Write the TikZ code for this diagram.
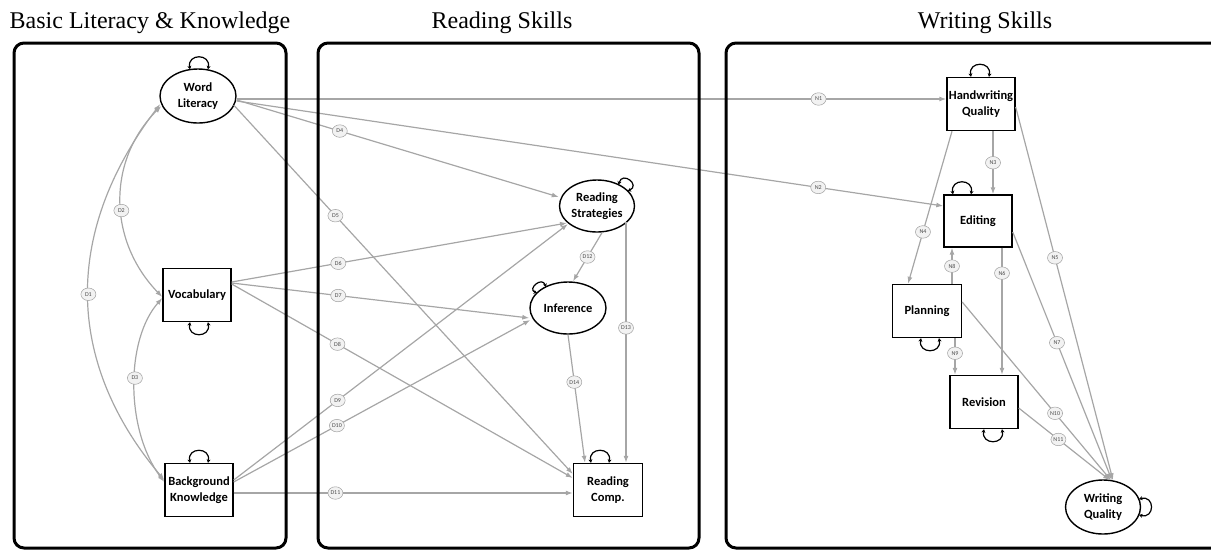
\documentclass[tikz,border=0pt]{standalone}
\usepackage{fontspec}
\setmainfont{Liberation Serif}
\newfontfamily\carlito{Carlito}
\usetikzlibrary{calc,arrows.meta,shapes.geometric}
\definecolor{edgegray}{HTML}{A6A6A6}
\definecolor{labfill}{HTML}{F2F2F2}
\definecolor{labdraw}{HTML}{A0A0A0}
\begin{document}
\begin{tikzpicture}[x=1pt,y=-1pt,
  ell/.style={ellipse, draw, line width=1.4pt, fill=white, minimum width=76pt, minimum height=54pt, inner sep=0pt, align=center, font=\carlito\bfseries\fontsize{12.5}{15.5}\selectfont},
  sbox/.style={rectangle, draw, line width=1.4pt, fill=white, minimum width=68pt, minimum height=53pt, inner sep=0pt, align=center, font=\carlito\bfseries\fontsize{12.5}{15.5}\selectfont},
  lab/.style={ellipse, draw=labdraw, fill=labfill, line width=0.5pt, minimum width=15pt, minimum height=12.5pt, inner sep=0.3pt, font=\carlito\fontsize{6}{7}\selectfont, text=black!70},
  conn/.style={draw=edgegray, line width=1.2pt, -{Latex[length=7pt,width=5pt]}},
  cov/.style={draw=edgegray, line width=1.2pt, {Latex[length=7pt,width=5pt]}-{Latex[length=7pt,width=5pt]}},
  selfloop/.style={draw=black, line width=1.2pt, {Stealth[length=3.5pt,width=4pt]}-{Stealth[length=3.5pt,width=4pt]}},
  panel/.style={draw, line width=3pt, rounded corners=10pt},
  ttl/.style={font=\fontsize{24}{28}\selectfont, anchor=base}
]
\useasboundingbox (0,0) rectangle (1211,550);

% titles
\node[ttl] (t1) at (150,28) {Basic Literacy \& Knowledge};
\node[ttl] (t2) at (502,28) {Reading Skills};
\node[ttl] (t3) at (985,28) {Writing Skills};

% nodes
\node[ell] (wl) at (198,96) {Word\\Literacy};
\node[sbox] (voc) at (197,295) {Vocabulary};
\node[sbox] (bk) at (199,490) {Background\\Knowledge};
\node[ell, minimum width=75pt, minimum height=52pt] (rs) at (597,206) {Reading\\Strategies};
\node[ell, minimum height=52pt] (inf) at (568,308) {Inference};
\node[sbox, minimum width=69pt] (rc) at (608,490) {Reading\\Comp.};
\node[sbox] (hq) at (981,104) {Handwriting\\Quality};
\node[sbox, minimum height=52pt] (ed) at (978,221) {Editing};
\node[sbox, minimum width=69pt] (pl) at (927,311) {Planning};
\node[sbox] (rev) at (984,402) {Revision};
\node[ell, minimum width=75pt] (wq) at (1103,507) {Writing\\Quality};

% covariances
\draw[cov] ($(wl.west)+(1,8)$) .. controls +(-96,126) and +(-101,-120) .. node[lab]{D1} ($(bk.west)+(0,-10)$);
\draw[cov] ($(wl.west)+(2,10)$) .. controls +(-54,54) and +(-55,-57) .. node[lab,pos=0.55]{D2} ($(voc.west)+(0,2)$);
\draw[cov] ($(voc.west)+(0,3)$) .. controls +(-37,42) and +(-39,-52) .. node[lab,pos=0.46]{D3} ($(bk.west)+(0,-8)$);

% reading paths
\draw[conn] ($(wl.east)+(0,4)$) -- node[lab,pos=0.32]{D4} ($(rs.west)+(0,-9)$);
\draw[conn] ($(wl.east)+(-3,9)$) -- node[lab,pos=0.30]{D5} ($(rc.west)+(0,-16)$);
\draw[conn] ($(voc.east)+(0,-13)$) -- node[lab,pos=0.318]{D6} ($(rs.center)+(-30,17)$);
\draw[conn] ($(voc.east)+(0,-12)$) -- node[lab,pos=0.358]{D7} ($(inf.west)+(0,10)$);
\draw[conn] ($(voc.east)+(0,-11)$) -- node[lab,pos=0.31]{D8} ($(rc.west)+(0,-12)$);
\draw[conn] ($(bk.east)+(0,-10)$) -- node[lab,pos=0.311]{D9} ($(rs.center)+(-29,18)$);
\draw[conn] ($(bk.east)+(0,-8)$) -- node[lab,pos=0.348]{D10} ($(inf.west)+(1,12)$);
\draw[conn] ($(bk.east)+(0,3)$) -- node[lab,pos=0.30]{D11} ($(rc.west)+(0,3)$);
\draw[conn] ($(rs.south)+(5,0)$) -- node[lab]{D12} ($(inf.north)+(5,0)$);
\draw[conn] ($(rs.center)+(29,16)$) -- node[lab,pos=0.44]{D13} ($(rc.north)+(18,0)$);
\draw[conn] (inf.south) -- node[lab,pos=0.37]{D14} ($(rc.north)+(-23,0)$);

% writing paths
\draw[conn] ($(wl.east)+(0,3)$) -- node[lab,pos=0.82]{N1} ($(hq.west)+(0,-5)$);
\draw[conn] ($(wl.east)+(0,5)$) -- node[lab,pos=0.823]{N2} ($(ed.west)+(0,-15)$);
\draw[conn] ($(hq.south)+(12,0)$) -- node[lab]{N3} ($(ed.north)+(15,0)$);
\draw[conn] ($(hq.south)+(-29,0)$) -- node[lab,pos=0.66]{N4} ($(pl.north)+(-19,0)$);
\draw[conn] ($(hq.east)+(0,3)$) -- node[lab,pos=0.404]{N5} ($(wq.north)+(10,1)$);
\draw[conn] ($(ed.south)+(24,0)$) -- node[lab,pos=0.2]{N6} ($(rev.north)+(18,0)$);
\draw[conn] ($(ed.east)+(0,11)$) -- node[lab,pos=0.446]{N7} ($(wq.north)+(9,1)$);
\draw[conn] ($(pl.north)+(25,0)$) -- node[lab,pos=0.49]{N8} ($(ed.south)+(-26,0)$);
\draw[conn] ($(pl.south)+(28,0)$) -- node[lab,pos=0.41]{N9} ($(rev.north)+(-29,0)$);
\draw[conn] ($(pl.east)+(0,-9)$) -- node[lab,pos=0.624]{N10} ($(wq.north)+(8,1)$);
\draw[conn] ($(rev.east)+(0,6)$) -- node[lab,pos=0.435]{N11} ($(wq.north)+(7,1)$);

% self loops
\draw[selfloop] ($(wl.north)+(-8,1)$) .. controls +(-3,-16) and +(3,-16) .. ($(wl.north)+(10,1)$);
\draw[selfloop] ($(voc.south)+(-7,0)$) .. controls +(-3,16) and +(3,16) .. ($(voc.south)+(11,0)$);
\draw[selfloop] ($(bk.north)+(-9,0)$) .. controls +(-3,-16) and +(3,-16) .. ($(bk.north)+(9,0)$);
\draw[selfloop] ($(rc.north)+(-17,0)$) .. controls +(-3,-16) and +(3,-16) .. ($(rc.north)+(1,0)$);
\draw[selfloop] ($(hq.north)+(-10,0)$) .. controls +(-3,-16) and +(3,-16) .. ($(hq.north)+(8,0)$);
\draw[selfloop] ($(ed.north)+(-25,0)$) .. controls +(-3,-16) and +(3,-16) .. ($(ed.north)+(-7,0)$);
\draw[selfloop] ($(pl.south)+(-6,0)$) .. controls +(-3,16) and +(3,16) .. ($(pl.south)+(12,0)$);
\draw[selfloop] ($(rev.south)+(0,0)$) .. controls +(-3,16) and +(3,16) .. ($(rev.south)+(18,0)$);
\draw[selfloop] ($(wq.center)+(36,-8)$) .. controls +(16,-4) and +(16,4) .. ($(wq.center)+(36,8)$);
\draw[selfloop] ($(rs.center)+(21.5,-21.3)$) .. controls +(4,-14) and +(13,-6) .. ($(rs.center)+(30.7,-14.9)$);
\draw[selfloop] ($(inf.center)+(-31,-15)$) .. controls +(-10,-4) and +(-4,-11) .. ($(inf.center)+(-22,-21)$);

% panels
\draw[panel] (14,43) rectangle (286,548);
\draw[panel] (318,43) rectangle (699,548);
\draw[panel] (726,43) rectangle (1240,548);
\end{tikzpicture}
\end{document}
